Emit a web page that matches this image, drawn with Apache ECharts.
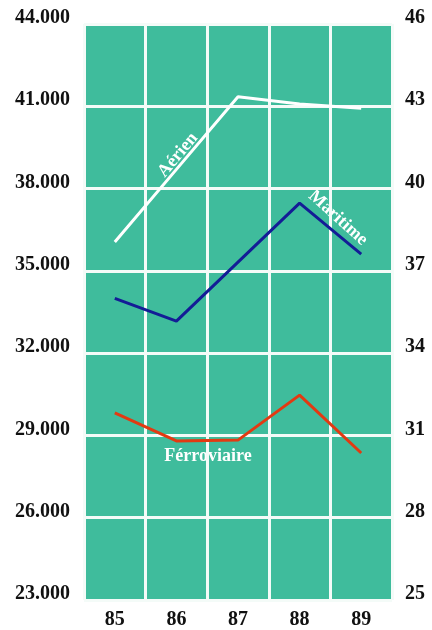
<!DOCTYPE html>
<html lang="fr">
<head>
  <meta charset="UTF-8">
  <title>Trafic</title>
  <script src="https://cdn.jsdelivr.net/npm/echarts@6/dist/echarts.min.js"></script>
  <style>
    html, body { margin: 0; padding: 0; background: #fff; }
    #chart { width: 432px; height: 630px; }
  </style>
</head>
<body>
  <div id="chart"></div>
  <script>
    // years
    const years = ['85', '86', '87', '88', '89'];
    // values
    const aerien = [36050, 38700, 41350, 41080, 40930];
    const maritime = [34000, 33170, 35320, 37470, 35610];
    const ferroviaire = [29820, 28800, 28830, 30470, 28360];

    const leftTicks = [23000, 44000, 3000];
    const rightTicks = [25, 46, 3];

    const serif = '"Liberation Serif", "DejaVu Serif", serif';
    const gridWhite = '#f4fbf8';

    const chart = echarts.init(document.getElementById('chart'));

    function fmtThousand(v) {
      return (v / 1000).toFixed(3);
    }

    function lineSeries(name, data, color) {
      return {
        name: name,
        type: 'line',
        data: data,
        symbol: 'none',
        lineStyle: { color: color, width: 3 },
        z: 3
      };
    }

    const labelBase = { fontFamily: serif, fontWeight: 'bold', fontSize: 20, color: '#111' };

    const option = {
      animation: false,
      grid: {
        left: 84, right: 40, top: 24, bottom: 30,
        show: true,
        backgroundColor: '#3fbc9c',
        borderWidth: 0
      },
      xAxis: {
        type: 'category',
        data: years,
        boundaryGap: true,
        axisLine: { show: false },
        axisTick: { show: false },
        axisLabel: Object.assign({}, labelBase, { margin: 10 }),
        splitLine: { show: true, lineStyle: { color: gridWhite, width: 3 } }
      },
      yAxis: [{
        type: 'value',
        min: leftTicks[0], max: leftTicks[1], interval: leftTicks[2],
        axisLine: { show: false },
        axisTick: { show: false },
        axisLabel: Object.assign({}, labelBase, {
          margin: 14, verticalAlign: 'bottom', lineHeight: 12, formatter: fmtThousand
        }),
        splitLine: { show: true, lineStyle: { color: gridWhite, width: 3 } }
      }, {
        type: 'value',
        min: rightTicks[0], max: rightTicks[1], interval: rightTicks[2],
        axisLine: { show: false },
        axisTick: { show: false },
        axisLabel: Object.assign({}, labelBase, {
          margin: 13, verticalAlign: 'bottom', lineHeight: 12
        }),
        splitLine: { show: false }
      }],
      series: [
        lineSeries('Aérien', aerien, '#ffffff'),
        lineSeries('Maritime', maritime, '#131c96'),
        lineSeries('Ferroviaire', ferroviaire, '#e23a12')
      ],
      graphic: [{
        type: 'text', x: 178, y: 155, rotation: 50 * Math.PI / 180,
        style: {
          text: 'Aérien', fill: '#fff', font: 'bold 18px ' + serif,
          align: 'center', verticalAlign: 'middle'
        }
      }, {
        type: 'text', x: 338, y: 218, rotation: -42 * Math.PI / 180,
        style: {
          text: 'Maritime', fill: '#fff', font: 'bold 18px ' + serif,
          align: 'center', verticalAlign: 'middle'
        }
      }, {
        type: 'text', x: 208, y: 456,
        style: {
          text: 'Férroviaire', fill: '#fff', font: 'bold 18px ' + serif,
          align: 'center', verticalAlign: 'middle'
        }
      }]
    };

    chart.setOption(option);
  </script>
</body>
</html>
